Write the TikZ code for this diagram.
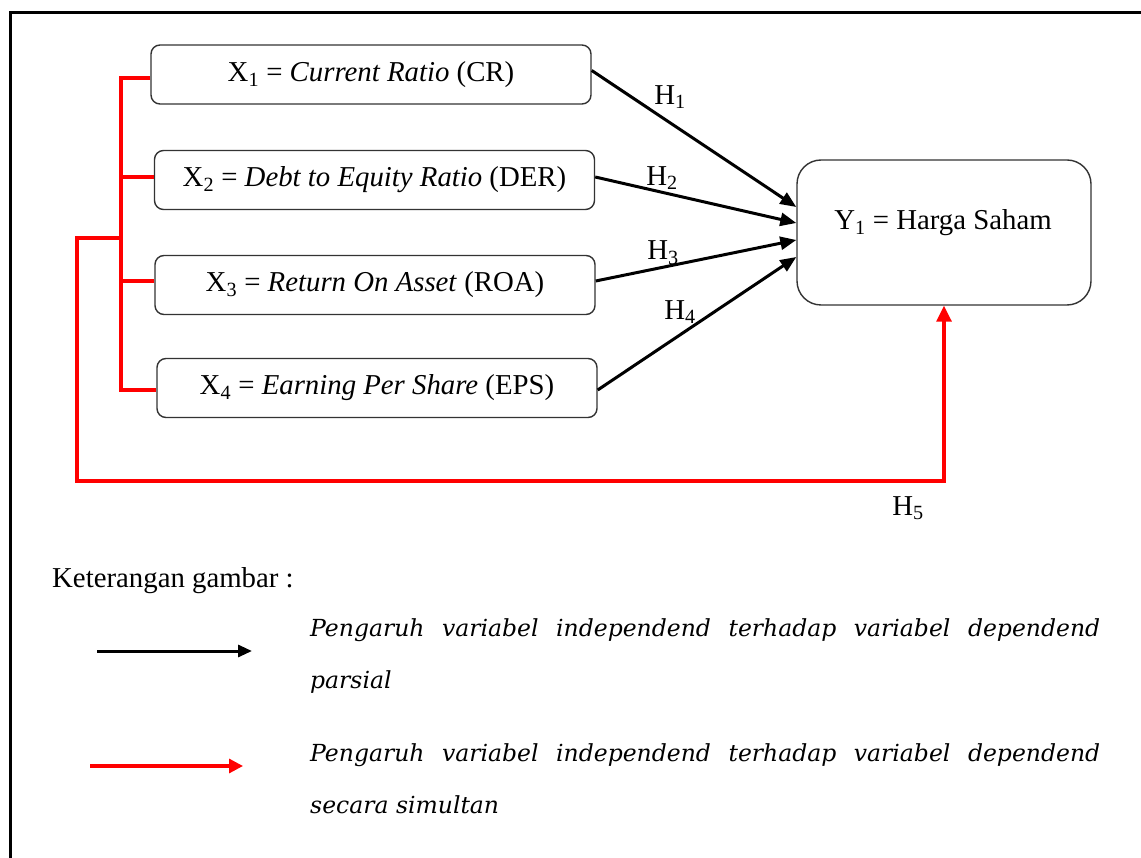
\documentclass[tikz,border=0pt]{standalone}
\usepackage{fontspec}
\setmainfont{Liberation Serif}
\newfontfamily\legfont{DejaVu Serif}
\usetikzlibrary{arrows.meta}
\begin{document}
\begin{tikzpicture}[x=1pt,y=-1pt,
  box/.style={draw=black!80, line width=1.4pt, rounded corners=9pt, minimum width=440pt, minimum height=59pt, inner sep=0pt, font=\fontsize{28.8}{33}\selectfont},
  blk/.style={line width=3pt, -{Triangle[length=16pt,width=13pt]}},
  rd/.style={draw=red, line width=3.2pt},
  lab/.style={font=\fontsize{28.8}{33}\selectfont, inner sep=0pt},
  leg/.style={font=\legfont\itshape\fontsize{23.5}{27}\selectfont, anchor=base west, inner sep=0pt},
  frame/.style={line width=2.2pt}]
\useasboundingbox (0,0) rectangle (1141,858);
% frame
\draw[frame] (10.5,858) -- (10.5,12.5) -- (1141,12.5);
\draw[line width=3.5pt] (9,12.5) -- (50,12.5);
\draw[line width=3.5pt] (1110,12.5) -- (1141,12.5);
% boxes
\node[box] (X1) at (371,74.5) {X\textsubscript{1} = \textit{Current Ratio} (CR)};
\node[box] (X2) at (374.5,180) {X\textsubscript{2} = \textit{Debt to Equity Ratio} (DER)};
\node[box] (X3) at (375,285) {X\textsubscript{3} = \textit{Return On Asset} (ROA)};
\node[box] (X4) at (377,388) {X\textsubscript{4} = \textit{Earning Per Share} (EPS)};
\node[box, minimum width=294pt, minimum height=145pt, rounded corners=24pt] (Y) at (944,232.5) {};
\node[lab] (Ylab) at (943,223) {Y\textsubscript{1} = Harga Saham};
% black arrows
\draw[blk] ([yshift=4pt]X1.east) -- ([yshift=25.5pt]Y.west);
\draw[blk] ([yshift=3pt]X2.east) -- ([yshift=9.5pt]Y.west);
\draw[blk] ([yshift=4pt]X3.east) -- ([yshift=-7.5pt]Y.west);
\draw[blk] ([yshift=-2pt]X4.east) -- ([yshift=-24.5pt]Y.west);
\node[lab] (H1) at (670,97) {H\textsubscript{1}};
\node[lab] (H2) at (662,178) {H\textsubscript{2}};
\node[lab] (H3) at (663,253) {H\textsubscript{3}};
\node[lab] (H4) at (680,312) {H\textsubscript{4}};
\node[lab] (H5) at (908,508) {H\textsubscript{5}};
% red tree
\coordinate (J) at (121,238);
\coordinate (c1) at (77,238);
\coordinate (c2) at (77,481);
\draw[rd] ([yshift=-3.5pt]X1.west) -- ([yshift=-3.5pt]X1.west -| J) -- ([yshift=-2pt]X4.west -| J) -- ([yshift=-2pt]X4.west);
\draw[rd] ([yshift=3pt]X2.west) -- ([yshift=3pt]X2.west -| J);
\draw[rd] ([yshift=4pt]X3.west) -- ([yshift=4pt]X3.west -| J);
\draw[rd, -{Triangle[length=16pt,width=15pt]}, red] (J) -- (c1) -- (c2) -- (c2 -| Y.south) -- (Y.south);
% legend
\node[lab, anchor=base west] (K) at (52,587) {Keterangan gambar :};
\coordinate (a1) at (97,651);
\coordinate (a2) at (252,651);
\coordinate (b1) at (90,766);
\coordinate (b2) at (243,766);
\draw[line width=3pt, -{Triangle[length=14pt,width=12pt]}] (a1) -- (a2);
\draw[red, line width=3.2pt, -{Triangle[length=14pt,width=14pt]}] (b1) -- (b2);
\node[leg] (L1) at (310,636) {\makebox[790pt][s]{Pengaruh variabel independend terhadap variabel dependend}};
\node[leg] (L2) at (310,688) {parsial};
\node[leg] (L3) at (310,761) {\makebox[790pt][s]{Pengaruh variabel independend terhadap variabel dependend}};
\node[leg] (L4) at (310,813) {secara simultan};
\end{tikzpicture}
\end{document}
